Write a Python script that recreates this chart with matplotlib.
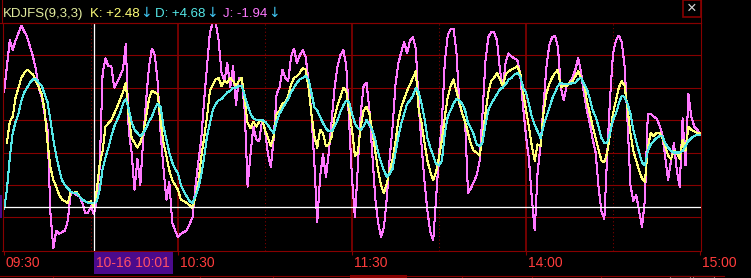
import numpy as np
import matplotlib.pyplot as plt
from matplotlib.patches import Rectangle
from matplotlib.lines import Line2D
from matplotlib.transforms import blended_transform_factory, ScaledTranslation

# KDJ readings per minute of the session (0 = 09:30, 240 = 15:00)
j_min = [0, 2, 3, 4, 6, 8, 10, 11, 12, 13, 15, 16, 17, 18, 19, 21, 22, 23, 24,
         26, 27, 28, 29, 30, 31, 32, 33, 34, 35, 36, 37, 38, 39,
         41, 42, 43, 44, 45, 46, 47, 48, 49, 50, 51, 52, 53, 54, 55, 56, 57, 58, 59, 60, 61,
         63, 65, 66, 67, 68, 69, 70, 71, 72, 73, 74, 75, 76, 77, 78, 79, 80, 81, 82, 83, 84] + list(range(85, 241))
j_val = [73, 105, 99, 105, 114, 107, 95, 87, 76, 70, 50, -1, -23, -12, -14, -12, -6, 11, 11,
         9, 5, -1, -1, 3, -1.94, 7, 27, 85, 94, 89, 89, 76, 79,
         87, 103, 50, 36, 13, 32, 16, 44, 68, 89, 100, 96, 79, 48, 26, 7, 18, -7, -12, -16, -14,
         -12, -4, 15, 30, 44, 68, 89, 110, 116, 116, 105, 85, 80, 91, 76, 89, 65, 82, 80, 62, 15,
         35, 52, 44, 43, 56, 50, 35, 27, 45, 72,
         76, 87, 82, 80, 95, 100, 91, 96, 99, 95,
         80, 60, 30, -7, 21, 35, 21, 36, 56, 76,
         89, 96, 99, 90, 55, 20, -4, 27, 60, 77,
         79, 62, 35, 8, -7, -16, -10, 8, 33, 52,
         78, 91, 98, 104, 97, 105, 107, 100, 65, 40,
         18, 0, -13, -18, 8, 35, 55, 92, 108, 112,
         112, 98, 66, 60, 55, 11, 14, 18, 22, 31,
         60, 92, 107, 110, 110, 105, 87, 76, 92, 97,
         95, 94, 93, 84, 64, 46, 32, 8, -12, 24,
         40, 64, 88, 102, 107, 108, 101, 76, 68, 77,
         79, 82, 87, 94, 85, 72, 62, 54, 44, 36,
         15, 0, -5, 35, 70, 97, 105, 108, 104, 89,
         55, 16, 6, 10, 0, -10, 7, 60, 60, 58,
         57, 53, 47, 33, 19, 31, 42, 25, 15, 57,
         28, 72, 58, 52, 50, 48]

k_min = [1, 2, 3, 4, 5, 6, 7, 8, 10, 11, 12, 13, 14, 15, 16, 17, 18, 19, 20,
         22, 23, 24, 25, 26, 27, 29, 30, 31, 32, 33, 34, 35, 36, 37, 38, 39,
         41, 42, 43, 44, 46, 47, 48, 49, 50, 51, 53, 54, 55, 56, 57, 58, 60, 61, 63,
         65, 66, 67, 68, 69, 70, 71, 73, 74, 75, 76, 77, 78, 79, 80, 81, 82, 83, 84] + list(range(85, 241))
k_val = [42, 55, 58, 70, 76, 82, 85, 87, 84, 80, 76, 72, 62, 42, 27, 19, 15, 10, 7,
         5, 12, 11, 12, 9, 7, 5, 6, 2.48, 13, 29, 37, 52, 54, 56, 60, 64,
         73, 79, 58, 45, 39, 42, 48, 58, 69, 74, 72, 55, 42, 34, 25, 19, 13, 7, 5,
         2, 9, 17, 33, 45, 58, 74, 81, 82, 77, 80, 79, 82, 80, 77, 80, 82, 68, 54,
         51, 55, 52, 55, 56, 50, 45, 40, 46, 60,
         62, 66, 67, 71, 78, 82, 83, 85, 88, 87,
         76, 60, 46, 39, 50, 48, 40, 41, 46, 58,
         65, 70, 76, 74, 62, 50, 34, 36, 52, 62,
         64, 60, 49, 37, 25, 16, 11, 17, 25, 32,
         43, 56, 64, 69, 74, 78, 82, 86, 62, 54,
         42, 31, 24, 19, 24, 33, 44, 58, 70, 77,
         81, 74, 67, 60, 55, 48, 41, 37, 36, 34,
         45, 60, 73, 80, 82, 85, 81, 77, 84, 86,
         87, 88, 89, 85, 73, 62, 52, 40, 31, 41,
         40, 60, 72, 78, 82, 85, 87, 76, 77, 77,
         79, 80, 83, 86, 82, 78, 68, 60, 52, 45,
         38, 31, 30, 36, 48, 60, 68, 76, 80, 77,
         63, 48, 37, 31, 25, 20, 18, 39, 48, 46,
         48, 48, 45, 40, 34, 32, 37, 36, 32, 44,
         37, 52, 50, 49, 48, 48]

d_min = list(range(0, 241))
d_val = [1, 13, 33, 48, 55, 60, 68, 73, 76, 79,
         81, 81, 79, 77, 72, 67, 56, 44, 34, 26,
         19, 16, 14, 12, 11, 11, 9, 7, 6, 5,
         5, 4.68, 6, 13, 26, 33, 39, 46, 52, 56,
         60, 66, 69, 63, 55, 50, 48, 46, 48, 51,
         55, 58, 63, 66, 64, 52, 44, 36, 30, 26,
         23, 16, 12, 9, 6, 5, 9, 14, 22, 33,
         46, 54, 62, 66, 68, 69, 71, 73, 74, 76,
         76, 77, 77, 71, 65, 60, 57, 56, 56, 56,
         55, 53, 50, 48, 55, 60, 63, 66, 69, 73,
         76, 79, 81, 82, 83, 81, 73, 64, 62, 58,
         54, 51, 49, 49, 52, 56, 61, 65, 68, 67,
         60, 54, 51, 50, 52, 56, 53, 50, 44, 36,
         30, 25, 21, 23, 26, 36, 46, 54, 60, 66,
         68, 71, 76, 73, 66, 57, 45, 39, 34, 29,
         28, 31, 48, 58, 62, 66, 69, 68, 66, 62,
         54, 51, 47, 41, 40, 42, 53, 62, 66, 69,
         72, 75, 76, 78, 81, 82, 84, 85, 83, 76,
         73, 66, 58, 53, 49, 45, 52, 58, 63, 69,
         73, 77, 79, 78, 78, 78, 79, 79, 81, 82,
         78, 75, 69, 62, 58, 52, 45, 42, 42, 48,
         56, 60, 66, 71, 70, 66, 60, 50, 43, 36,
         30, 28, 37, 41, 43, 45, 46, 46, 42, 39,
         37, 36, 36, 36, 37, 40, 43, 45, 46, 47,
         47]

tick_min = [0, 60, 120, 180, 240]
tick_lab = ['09:30', '10:30', '11:30', '14:00', '15:00']
half_min = [30, 90, 150, 210]
cursor_min = 31
cursor_lab = '10-16 10:01'
title = 'KDJFS(9,3,3)'

red = '#870000'
k_col = '#ffff78'
d_col = '#55e8e8'
j_col = '#ff78ff'
lab_red = '#ff3c3c'
purple = '#4b0a8c'
fam = ['Liberation Sans', 'DejaVu Sans']

W, H = 751, 278
fig = plt.figure(figsize=(W / 100, H / 100), dpi=100, facecolor='black')


def fx(x):
    return x / W


def fy(y):
    return 1 - y / H


# plot panel (pixels from top-left)
x0, x1, y0, y1 = 2.5, 701, 22.7, 251.3
ax = fig.add_axes([fx(x0), fy(y1), (x1 - x0) / W, (y1 - y0) / H])
ax.set_facecolor('black')
ax.set_xlim(-0.52, 240.34)
ax.set_ylim(-24.8, 115.9)
for s in ax.spines.values():
    s.set_color(red)
    s.set_linewidth(0.8)
ax.set_yticks([])
ax.set_xticks(tick_min)
ax.tick_params(axis='x', length=3, width=0.8, color=red, labelbottom=False)

for v in np.linspace(-3.9, 95.8, 6):
    ax.axhline(v, color=red, lw=0.8)
for m in tick_min[1:-1]:
    ax.axvline(m, color=red, lw=1.2)
for m in half_min:
    ax.axvline(m, color=red, lw=0.75, ls=(0, (1, 2.5)))

ax.plot(j_min, j_val, color=j_col, lw=0.75, antialiased=False)
ax.plot(k_min, k_val, color=k_col, lw=0.75, antialiased=False)
ax.plot(d_min, d_val, color=d_col, lw=0.75, antialiased=False)

kc = k_val[k_min.index(cursor_min)]
dc = d_val[d_min.index(cursor_min)]
jc = j_val[j_min.index(cursor_min)]
ax.axvline(cursor_min, color='white', lw=0.9)
ax.axhline(kc, color='white', lw=0.9)

# time labels under the axis
tr = blended_transform_factory(ax.transData, ax.transAxes) + ScaledTranslation(0.015, 0, fig.dpi_scale_trans)
for m, lab in zip(tick_min, tick_lab):
    ax.text(m, -0.052, lab, transform=tr, ha='left', va='center', color=lab_red,
            fontsize=10, family=fam, clip_on=False)

# cursor time box
cx = ax.transData.transform((cursor_min, 0))[0]
fig.add_artist(Rectangle((fx(cx), fy(273.5)), 79 / W, 21.8 / H, transform=fig.transFigure,
                         facecolor=purple, edgecolor='none'))
fig.text(fx(cx + 2.5), fy(263), cursor_lab, color='#ff5068', fontsize=10, family=fam,
         ha='left', va='center')
fig.add_artist(Rectangle((0, fy(218)), 2 / W, 23 / H, transform=fig.transFigure,
                         facecolor=purple, edgecolor='none'))

# frame pieces outside the panel
for xs, ys in [([0, 701], [y0, y0]), ([1.5, 1.5], [0, y0]), ([701, 701], [0, y0]),
               ([0, 724], [275.5, 275.5])]:
    fig.add_artist(Line2D([fx(v) for v in xs], [fy(v) for v in ys], color=red, lw=0.8))
for xv in [53, 200, 273, 462, 532, 601]:
    fig.add_artist(Line2D([fx(xv), fx(xv)], [fy(275.5), fy(278)], color=red, lw=0.8))
fig.add_artist(Rectangle((fx(350), fy(278)), 57 / W, 3 / H, transform=fig.transFigure,
                         facecolor='#8a0000', edgecolor='none'))
for gx in [669.5, 693]:
    fig.add_artist(Rectangle((fx(gx), fy(278)), 20.5 / W, 2.5 / H, transform=fig.transFigure,
                             facecolor='none', edgecolor='#808080', lw=0.8))

# close button
fig.add_artist(Rectangle((fx(683), fy(17)), 17.5 / W, 17 / H, transform=fig.transFigure,
                         facecolor='black', edgecolor=red, lw=1.2))
fig.text(fx(691.8), fy(8.8), '\u00d7', color='#d8d8d8', fontsize=12, family=fam,
         ha='center', va='center')

# header line with current values
r = fig.canvas.get_renderer()
base = fy(17)


def put(x, s, c, f=fam, size=9.5):
    t = fig.text(fx(x), base, s, color=c, fontsize=size, family=f, va='baseline')
    return t.get_window_extent(r).x1


put(3, title, '#e4eea0')
arrow_col = '#40c4f0'
for x, s, c in [(90, 'K: %+.2f' % kc, k_col), (155, 'D: %+.2f' % dc, d_col), (223, 'J: %+.2f' % jc, j_col)]:
    end = put(x, s, c)
    put(end + 0.5, '\u2193', arrow_col, ['DejaVu Sans'], 10)

fig.savefig('out.png', dpi=100, facecolor='black')
